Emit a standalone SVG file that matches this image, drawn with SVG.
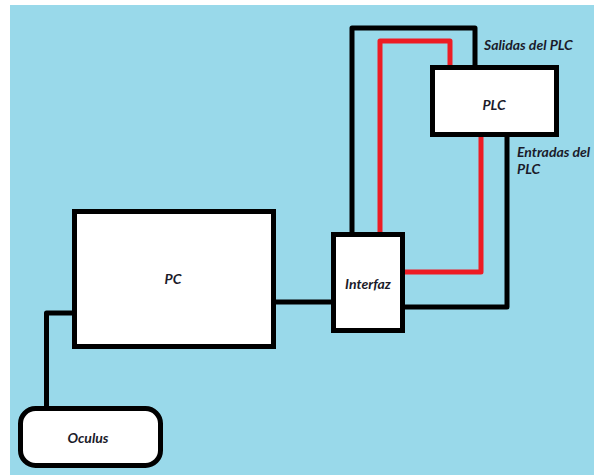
<svg xmlns="http://www.w3.org/2000/svg" width="594" height="476" viewBox="0 0 594 476">
<style>
.box{fill:#ffffff;stroke:#000000;stroke-width:5}
.blk{fill:none;stroke:#000000;stroke-width:5;stroke-linejoin:round}
.red{fill:none;stroke:#ED1C24;stroke-width:5;stroke-linejoin:round}
.lbl{font-family:Lato,"Open Sans",sans-serif;font-weight:bold;font-style:italic;font-size:14px;fill:#1b1b2a}
</style>
<rect x="0" y="0" width="594" height="476" fill="#ffffff"/>
<rect x="10" y="5" width="584" height="470" fill="#99D9EA"/>
<g id="connectors">
<polyline class="blk" points="72,313 46.5,313 46.5,408"/>
<polyline class="blk" points="276,302 332,302"/>
<polyline class="blk" points="352,233 352,28 475,28 475,66"/>
<polyline class="red" points="380,233 380,41 450,41 450,66"/>
<polyline class="red" points="481,136 481,272 404,272"/>
<polyline class="blk" points="507,136 507,307 404,307"/>
</g>
<g id="pc">
<rect class="box" x="74.5" y="211.5" width="199" height="135"/>
<text class="lbl" x="173" y="284" text-anchor="middle">PC</text>
</g>
<g id="oculus">
<rect class="box" x="20.5" y="408.5" width="140" height="57" rx="15" ry="15"/>
<text class="lbl" x="88" y="443" text-anchor="middle">Oculus</text>
</g>
<g id="interfaz">
<rect class="box" x="333.5" y="234.5" width="69" height="96"/>
<text class="lbl" x="368" y="289" text-anchor="middle">Interfaz</text>
</g>
<g id="plc">
<rect class="box" x="432.5" y="67.5" width="124" height="67"/>
<text class="lbl" x="494" y="110" text-anchor="middle">PLC</text>
</g>
<g id="labels">
<text class="lbl" x="484" y="50">Salidas del PLC</text>
<text class="lbl" x="517" y="157">Entradas del</text>
<text class="lbl" x="517" y="174">PLC</text>
</g>
</svg>
